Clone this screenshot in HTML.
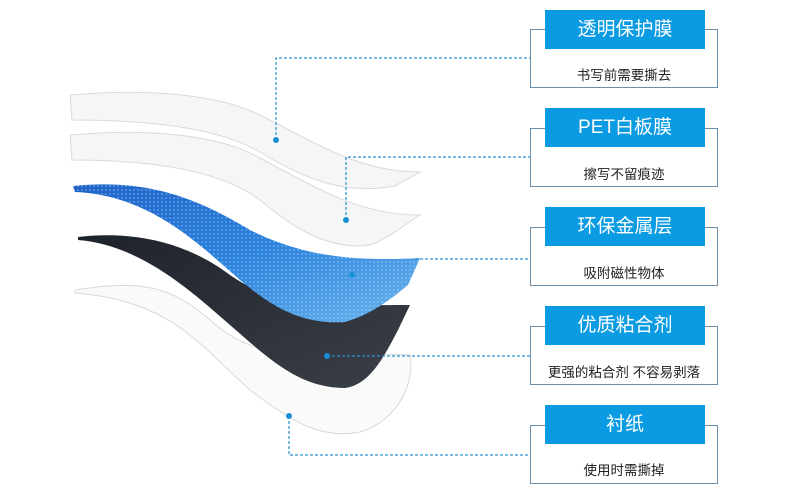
<!DOCTYPE html>
<html><head><meta charset="utf-8"><style>
body{margin:0;width:790px;height:500px;background:#fff;overflow:hidden;position:relative;font-family:"Liberation Sans","Noto Sans CJK SC",sans-serif}
.ob{position:absolute;left:530px;width:188px;height:59px;border:1.5px solid #6b8faa;box-sizing:border-box}
.hd{position:absolute;left:545px;width:160px;height:39px;background:#0a9be3;color:#fff;font-size:19px;text-align:center;line-height:39px}
.sb{position:absolute;left:530px;width:188px;text-align:center;font-size:13.5px;color:#222}
</style></head><body>
<svg width="790" height="500" style="position:absolute;left:0;top:0">
<defs>
<linearGradient id="bl" x1="0" y1="0" x2="1" y2="1"><stop offset="0" stop-color="#1f63c8"/><stop offset="0.5" stop-color="#2a82dc"/><stop offset="1" stop-color="#6cb5ee"/></linearGradient>
<linearGradient id="bk" x1="0" y1="0" x2="1" y2="1"><stop offset="0" stop-color="#1e222a"/><stop offset="1" stop-color="#3a3f48"/></linearGradient>
<pattern id="dots" width="4" height="4" patternUnits="userSpaceOnUse"><circle cx="2" cy="2" r="0.9" fill="#bfe0ff" opacity="0.5"/></pattern>
</defs>
<path d="M75,290 C140,280 170,285 210,320 C260,365 300,350 410,355 C415,380 400,420 360,432 C320,440 290,420 250,390 C200,345 170,300 75,293 Z" fill="#fafafa" stroke="#d8d8d8"/>
<path d="M78,237 C140,230 190,245 230,275 C280,310 330,305 410,305 L398,330 C385,355 370,385 345,388 C300,388 270,360 230,325 C190,290 140,245 78,240 Z" fill="url(#bk)"/>
<path d="M73,186 C150,178 200,200 250,230 C300,255 350,262 420,258 L408,285 C390,300 370,315 345,322 C300,325 270,305 240,280 C200,245 150,195 75,192 Z" fill="url(#bl)"/>
<path d="M73,186 C150,178 200,200 250,230 C300,255 350,262 420,258 L408,285 C390,300 370,315 345,322 C300,325 270,305 240,280 C200,245 150,195 75,192 Z" fill="url(#dots)"/>
<path d="M70,135 C150,128 220,135 260,158 C320,190 360,215 420,215 L395,232 C380,242 370,246 360,246 C320,246 290,225 260,200 C220,170 150,160 72,160 Z" fill="#f4f5f7" fill-opacity="0.95" stroke="#d9dadd"/>
<path d="M70,95 C150,88 220,95 260,115 C320,145 360,172 420,172 L395,186 C340,196 300,176 260,152 C220,128 150,120 72,120 Z" fill="#f4f5f7" fill-opacity="0.9" stroke="#d9dadd"/>
<g stroke="#2a8fcf" stroke-width="1.2" stroke-dasharray="3,2" fill="none">
<path d="M276,140 V58 H530"/>
<path d="M346,220 V157 H530"/>
<path d="M415,259 H530"/>
<path d="M327,356 H530"/>
<path d="M289,416 V455 H530"/>
</g>
<g fill="#1b8fd6"><circle cx="276" cy="140" r="3"/><circle cx="346" cy="220" r="3"/><circle cx="352" cy="275" r="3"/><circle cx="327" cy="356" r="3"/><circle cx="289" cy="416" r="3"/></g>
</svg>
<div class="ob" style="top:29px"></div><div class="hd" style="top:10px">透明保护膜</div><div class="sb" style="top:64px">书写前需要撕去</div>
<div class="ob" style="top:128px"></div><div class="hd" style="top:108px">PET白板膜</div><div class="sb" style="top:163px">擦写不留痕迹</div>
<div class="ob" style="top:227px"></div><div class="hd" style="top:207px">环保金属层</div><div class="sb" style="top:262px">吸附磁性物体</div>
<div class="ob" style="top:326px"></div><div class="hd" style="top:306px">优质粘合剂</div><div class="sb" style="top:361px">更强的粘合剂 不容易剥落</div>
<div class="ob" style="top:425px"></div><div class="hd" style="top:405px">衬纸</div><div class="sb" style="top:459px">使用时需撕掉</div>
</body></html>
